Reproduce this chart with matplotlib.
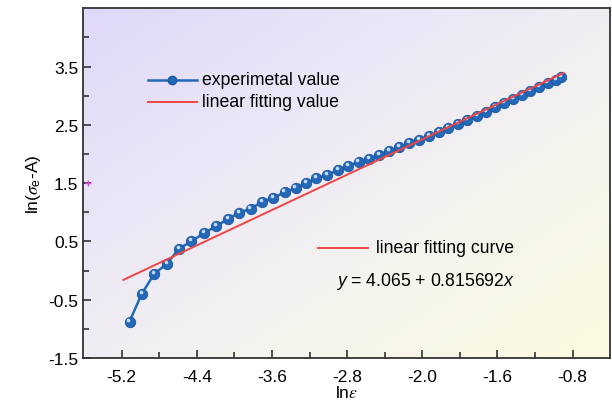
import matplotlib
matplotlib.use("Agg")
import matplotlib.pyplot as plt
import matplotlib.transforms as mtransforms
from matplotlib.colors import LinearSegmentedColormap
import numpy as np

# measured points (ln eps, ln(sigma_e - A))
ln_eps = [-5.117, -4.988, -4.854, -4.721, -4.592, -4.458, -4.325, -4.196, -4.071, -3.950,
          -3.829, -3.704, -3.588, -3.467, -3.350, -3.237, -3.129, -3.012, -2.900, -2.787,
          -2.679, -2.571, -2.462, -2.354, -2.246, -2.137, -2.033, -1.929, -1.825, -1.725,
          -1.621, -1.521, -1.421, -1.325, -1.229, -1.133, -1.038, -0.942, -0.850, -0.758,
          -0.667, -0.579, -0.525]
ln_sig = [-0.876, -0.402, -0.058, 0.113, 0.371, 0.502, 0.640, 0.760, 0.880, 0.994,
          1.057, 1.183, 1.246, 1.343, 1.412, 1.503, 1.584, 1.641, 1.721, 1.789,
          1.870, 1.910, 1.990, 2.047, 2.116, 2.184, 2.241, 2.316, 2.379, 2.447,
          2.516, 2.585, 2.653, 2.728, 2.802, 2.871, 2.945, 3.008, 3.082, 3.151,
          3.225, 3.271, 3.323]

# fitted line end points
fit_x = [-5.183, -0.496]
fit_y = [-0.161, 3.391]

xticks = [-5.2, -4.4, -3.6, -2.8, -2.0, -1.2, -0.4]
xtick_labels = ["-5.2", "-4.4", "-3.6", "-2.8", "-2.0", "-1.6", "-0.8"]
yticks = [-1.5, -0.5, 0.5, 1.5, 2.5, 3.5]
ytick_labels = ["-1.5", "-0.5", "0.5", "1.5", "2.5", "3.5"]

plt.rcParams['font.family'] = ['Liberation Sans', 'DejaVu Sans']
plt.rcParams['mathtext.fontset'] = 'custom'
plt.rcParams['mathtext.rm'] = 'Liberation Sans'
plt.rcParams['mathtext.it'] = 'Liberation Sans:italic'

fig = plt.figure(figsize=(6.12, 4.06), dpi=100)
ax = fig.add_axes([0.136, 0.116, 0.861, 0.861])

# gradient background: lavender top-left -> pale yellow bottom-right
cmap = LinearSegmentedColormap.from_list("bg", ["#e0d8f8", "#ebe7f7", "#f5f4ee", "#fbfbe0"])
gx, gy = np.meshgrid(np.linspace(0, 1, 200), np.linspace(0, 1, 200))
grad = (gx + gy) / 2
ax.imshow(grad, cmap=cmap, extent=[0, 1, 0, 1], transform=ax.transAxes,
          aspect='auto', zorder=0, origin='upper')

blue = "#2468b8"
red = "#ef4545"
ax.plot(ln_eps, ln_sig, color=blue, lw=1.8, marker='o', ms=7.5,
        mfc=blue, mec="#1a55a0", mew=0.6, zorder=3)
hl = mtransforms.offset_copy(ax.transData, fig=fig, x=-0.8, y=1.3, units='points')
ax.plot(ln_eps, ln_sig, ls='none', marker='o', ms=2.6, mfc="#c4dcf4", mec='none',
        transform=hl, zorder=4)
ax.plot(fit_x, fit_y, color=red, lw=1.4, zorder=5)
ax.plot([-5.555], [1.5], marker='+', color="#e040d8", ms=5, mew=1, zorder=4)

ax.set_xlim(-5.61, 0.0)
ax.set_ylim(-1.5, 4.5)
ax.set_xticks(xticks)
ax.set_xticklabels(xtick_labels)
ax.set_xticks(np.array(xticks[:-1]) + 0.4, minor=True)
ax.set_yticks(yticks)
ax.set_yticklabels(ytick_labels)
ax.set_yticks([-1.0, 0.0, 1.0, 2.0, 3.0, 4.0], minor=True)
ax.tick_params(which='both', direction='in', labelsize=12.5, color="#333333")
ax.tick_params(which='major', length=6, width=1.2)
ax.tick_params(which='minor', length=4, width=1.2)
ax.tick_params(axis='x', pad=8)
for s in ax.spines.values():
    s.set_color("#333333")
    s.set_linewidth(1.3)

ax.set_xlabel(r"ln$\varepsilon$", fontsize=12.5, labelpad=0, math_fontfamily='stix')
ax.set_ylabel(r"ln($\sigma_{\mathregular{e}}$-A)", fontsize=12.5, labelpad=4,
              math_fontfamily='stix')

# legend block drawn by hand
def px(x, y):
    return x / 612, 1 - y / 406

x0, y0 = px(147.5, 80.7)
x1, _ = px(197, 80.7)
fig.add_artist(plt.Line2D([x0, x1], [y0, y0], color=blue, lw=1.8))
fig.add_artist(plt.Line2D([(x0 + x1) / 2], [y0], marker='o', ms=6, color=blue, mec="#1a55a0"))
tx, _ = px(202, 0)
fig.text(tx, y0, "experimetal value", fontsize=12.7, va='center', ha='left')
_, y1 = px(0, 102.7)
fig.add_artist(plt.Line2D([x0, x1], [y1, y1], color=red, lw=1.4))
fig.text(tx, y1, "linear fitting value", fontsize=12.7, va='center', ha='left')

x2, y2 = px(318, 249)
x3, _ = px(368, 249)
fig.add_artist(plt.Line2D([x2, x3], [y2, y2], color=red, lw=1.4))
fig.text(px(375.5, 0)[0], y2, "linear fitting curve", fontsize=12.7, va='center', ha='left')
fig.text(px(336.5, 0)[0], px(0, 282)[1], r"$y$ = 4.065 + 0.815692$x$", fontsize=12.7,
         va='center', ha='left')

fig.savefig("out.png", dpi=100)
